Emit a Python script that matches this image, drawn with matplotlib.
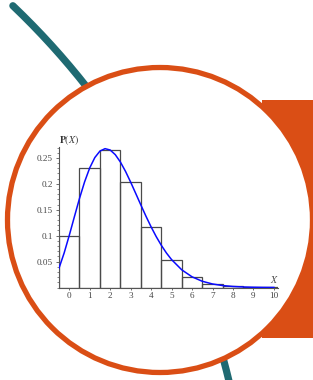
import numpy as np
import matplotlib.pyplot as plt
from matplotlib.patches import Circle, Rectangle
from matplotlib.ticker import MultipleLocator

plt.rcParams["mathtext.fontset"] = "stix"

# Poisson-like probabilities
x_vals = [0, 1, 2, 3, 4, 5, 6, 7, 8, 9, 10]
p_vals = [0.100, 0.231, 0.265, 0.203, 0.117, 0.054, 0.021, 0.007, 0.002, 0.0005, 0.0001]

# smooth blue curve
curve_x = [-0.5, -0.25, 0, 0.25, 0.5, 0.75, 1, 1.25, 1.5, 1.75, 2, 2.25, 2.5, 2.75,
           3, 3.25, 3.5, 3.75, 4, 4.25, 4.5, 4.75, 5, 5.5, 6, 6.5, 7, 7.5, 8,
           8.5, 9, 9.5, 10]
curve_y = [0.0373, 0.0664, 0.1003, 0.1362, 0.1716, 0.2037, 0.2306, 0.2506, 0.2631,
           0.2678, 0.2652, 0.2562, 0.2420, 0.2240, 0.2033, 0.1813, 0.1591, 0.1374,
           0.1169, 0.0981, 0.0813, 0.0665, 0.0538, 0.0340, 0.0206, 0.0120, 0.0068,
           0.0037, 0.0020, 0.0010, 0.0005, 0.0002, 0.0001]

y_ticks = [0.05, 0.1, 0.15, 0.2, 0.25]
y_tick_labels = ["0.05", "0.1", "0.15", "0.2", "0.25"]

W, H = 313, 380
fig = plt.figure(figsize=(W / 100, H / 100), dpi=100)

# decorative background in pixel coordinates
bg = fig.add_axes([0, 0, 1, 1])
bg.set_xlim(0, W)
bg.set_ylim(H, 0)
bg.axis("off")

teal = "#1f6a72"
orange = "#da4e15"

# teal arc (part of a large circle)
th = np.radians(np.linspace(-46.4, -12, 200))
cx, cy, r = -514, 559, 764
bg.plot(cx + r * np.cos(th), cy + r * np.sin(th), color=teal, lw=5.2,
        solid_capstyle="round", zorder=1)

bg.add_patch(Rectangle((262, 100), 60, 238, color=orange, lw=0, zorder=2))
bg.add_patch(Circle((160, 220), 152.5, facecolor="white", edgecolor=orange,
                    lw=3.8, zorder=3))

# chart
ax = fig.add_axes([59 / W, 1 - 287.5 / H, 219 / W, 140.5 / H])
ax.patch.set_alpha(0)

ax.bar(x_vals, p_vals, width=1.0, facecolor="none", edgecolor="#4a4a4a",
       lw=0.9, zorder=2)
ax.plot(curve_x, curve_y, color="#0a0aff", lw=1.1, zorder=3)

ax.set_xlim(-0.5, 10.2)
ax.set_ylim(0, 0.271)

for s in ["top", "right"]:
    ax.spines[s].set_visible(False)
for s in ["left", "bottom"]:
    ax.spines[s].set_color("#555555")
    ax.spines[s].set_linewidth(0.8)

ax.set_xticks(x_vals)
ax.set_xticklabels([str(v) for v in x_vals])
ax.set_yticks(y_ticks)
ax.set_yticklabels(y_tick_labels)
ax.yaxis.set_minor_locator(MultipleLocator(0.01))

ax.tick_params(axis="both", which="major", labelsize=6.6, labelcolor="#444444",
               color="#555555", width=0.6, length=2.5, pad=2)
ax.tick_params(axis="y", which="minor", color="#555555", width=0.5, length=1.5)
ax.tick_params(axis="x", which="major", length=1.5)
for lab in ax.get_xticklabels() + ax.get_yticklabels():
    lab.set_fontfamily("Liberation Serif")

ax.text(0.0, 1.0, r"$\mathbf{P}(\mathit{X})$", transform=ax.transAxes,
        fontsize=7, ha="left", va="bottom", color="#333333")
ax.text(10.0, 0.004, r"$\mathit{X}$", fontsize=7, ha="center", va="bottom",
        color="#444444")

fig.savefig("out.png", dpi=100)
